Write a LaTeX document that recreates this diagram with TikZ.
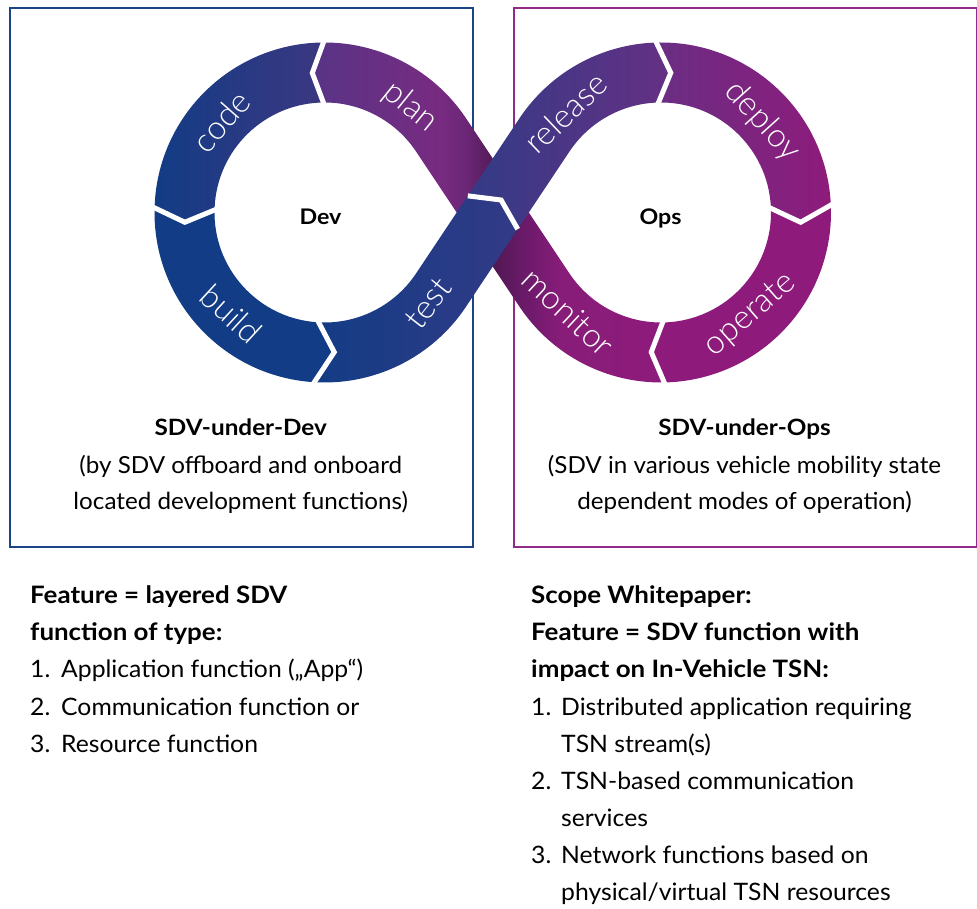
\documentclass[tikz,border=0pt]{standalone}
\usepackage{fontspec}
\setmainfont{Lato}[UprightFeatures={FakeStretch=1.03}, BoldFeatures={FakeStretch=1.08}]
\IfFontExistsTF{Lato Light}{\newfontfamily\ringfont{Lato Light}}{\newfontfamily\ringfont{Lato}}
\usetikzlibrary{calc}
\definecolor{boxblue}{HTML}{1B4489}
\definecolor{boxpurple}{HTML}{912A88}
\definecolor{dblue}{HTML}{123C85}
\definecolor{codemid}{HTML}{173C86}
\definecolor{coderight}{HTML}{3C3781}
\definecolor{testright}{HTML}{333A86}
\definecolor{relleft}{HTML}{333B86}
\definecolor{relright}{HTML}{653084}
\definecolor{depleft}{HTML}{6A2E84}
\definecolor{depmid}{HTML}{8A1F7C}
\definecolor{mag}{HTML}{8E1B7B}
\definecolor{pa}{HTML}{583486}
\definecolor{pb}{HTML}{772B81}
\definecolor{pc}{HTML}{6C2778}
\definecolor{pd}{HTML}{531A55}
\definecolor{ma}{HTML}{4E1851}
\definecolor{mb}{HTML}{6B1A6A}
\definecolor{mc}{HTML}{881C79}
\pgfdeclarehorizontalshading{planshade}{100bp}{color(0bp)=(pa); color(25bp)=(pa); color(56bp)=(pb); color(62bp)=(pc); color(69.4bp)=(pd); color(100bp)=(pd)}
\pgfdeclarehorizontalshading{monshade}{100bp}{color(0bp)=(ma); color(30.6bp)=(ma); color(39.5bp)=(mb); color(48.3bp)=(mc); color(75bp)=(mag); color(100bp)=(mag)}
\begin{document}
\begin{tikzpicture}[x=1pt,y=1pt,
  gap/.style={white, line width=5pt, line join=miter},
  lbl/.style={text=white, inner sep=0pt, font=\ringfont\fontsize{33}{33}\selectfont},
  body/.style={anchor=base west, inner sep=0pt, font=\fontsize{24}{28}\selectfont},
  bodyb/.style={anchor=base west, inner sep=0pt, font=\bfseries\fontsize{24}{28}\selectfont},
  cbody/.style={anchor=base, inner sep=0pt, font=\fontsize{23.5}{28}\selectfont},
  cbodyb/.style={anchor=base, inner sep=0pt, font=\bfseries\fontsize{22.5}{28}\selectfont},
  hub/.style={anchor=base, inner sep=0pt, font=\bfseries\fontsize{21.5}{21}\selectfont}]
\useasboundingbox (0,0) rectangle (977,908);
\fill[white] (0,0) rectangle (977,908);
% boxes
\node[draw=boxblue, line width=2pt, minimum width=463pt, minimum height=539pt, anchor=north west, inner sep=0pt] (devbox) at (9,901) {};
\node[draw=boxpurple, line width=2pt, minimum width=463pt, minimum height=539pt, anchor=north west, inner sep=0pt] (opsbox) at (513,901) {};
% centres
\coordinate (CL) at (324.5,695.5);
\coordinate (CR) at (661,695.5);
\coordinate (P) at (492.75,695.5);
% strand B (plan -> monitor), lower layer
\shade[shading=planshade] ($(P)+(33.7:30)$) -- ($(CL)+(33.7:170)$) arc[start angle=33.7, end angle=90, radius=170] -- ($(CL)+(95:140)$) -- ($(CL)+(90:110)$) arc[start angle=90, end angle=33.7, radius=110] -- ($(P)+(213.7:30)$) -- cycle;
\shade[shading=monshade] ($(CR)+(-88.5:170)$) arc[start angle=-88.5, end angle=-146.3, radius=170] -- ($(P)+(213.7:30)$) -- ($(P)+(33.7:30)$) -- ($(CR)+(-146.3:110)$) arc[start angle=-146.3, end angle=-88.5, radius=110] -- ($(CR)+(-94:140)$) -- cycle;
% code
\shade[left color=dblue, middle color=codemid, right color=coderight] ($(CL)+(90:170)$) arc[start angle=90, end angle=178, radius=170] -- ($(CL)+(184:140)$) -- ($(CL)+(178:110)$) arc[start angle=178, end angle=90, radius=110] -- ($(CL)+(95:140)$) -- cycle;
% build
\fill[dblue] ($(CL)+(178:170)$) arc[start angle=178, end angle=266, radius=170] -- ($(CL)+(274:140)$) -- ($(CL)+(266:110)$) arc[start angle=266, end angle=178, radius=110] -- ($(CL)+(184:140)$) -- cycle;
% deploy
\shade[left color=depleft, middle color=depmid, right color=mag] ($(CR)+(92:170)$) arc[start angle=92, end angle=3, radius=170] -- ($(CR)+(-4:140)$) -- ($(CR)+(3:110)$) arc[start angle=3, end angle=92, radius=110] -- ($(CR)+(86:140)$) -- cycle;
% operate
\fill[mag] ($(CR)+(3:170)$) arc[start angle=3, end angle=-88.5, radius=170] -- ($(CR)+(-94:140)$) -- ($(CR)+(-88.5:110)$) arc[start angle=-88.5, end angle=3, radius=110] -- ($(CR)+(-4:140)$) -- cycle;
% strand A (test -> release), upper layer
\shade[left color=dblue, right color=testright] ($(CL)+(266:170)$) arc[start angle=266, end angle=326.3, radius=170] -- ($(P)+(-33.7:30)$) -- ($(P)+(56.3:15)$) -- ($(P)+(146.3:30)$) -- ($(CL)+(326.3:110)$) arc[start angle=326.3, end angle=266, radius=110] -- ($(CL)+(274:140)$) -- cycle;
\shade[left color=relleft, right color=relright] ($(P)+(146.3:30)$) -- ($(CR)+(146.3:170)$) arc[start angle=146.3, end angle=92, radius=170] -- ($(CR)+(86:140)$) -- ($(CR)+(92:110)$) arc[start angle=92, end angle=146.3, radius=110] -- ($(P)+(-33.7:30)$) -- ($(P)+(56.3:15)$) -- cycle;
% white chevron gaps
\draw[gap] ($(CL)+(90:173)$) -- ($(CL)+(95:140)$) -- ($(CL)+(90:107)$);
\draw[gap] ($(CL)+(178:173)$) -- ($(CL)+(184:140)$) -- ($(CL)+(178:107)$);
\draw[gap] ($(CL)+(266:173)$) -- ($(CL)+(274:140)$) -- ($(CL)+(266:107)$);
\draw[gap] ($(P)+(146.3:30)$) -- ($(P)+(56.3:15)$) -- ($(P)+(-33.7:30)$);
\draw[gap] ($(CR)+(92:173)$) -- ($(CR)+(86:140)$) -- ($(CR)+(92:107)$);
\draw[gap] ($(CR)+(3:173)$) -- ($(CR)+(-4:140)$) -- ($(CR)+(3:107)$);
\draw[gap] ($(CR)+(-88.5:173)$) -- ($(CR)+(-94:140)$) -- ($(CR)+(-88.5:107)$);
% ring labels
\node[lbl, rotate=48.6] (lcode) at ($(CL)+(138.6:138)$) {code};
\node[lbl, rotate=-39] (lplan) at ($(CL)+(51:136)$) {plan};
\node[lbl, rotate=-42.6] (lbuild) at ($(CL)+(227.4:138)$) {build};
\node[lbl, rotate=52] (ltest) at ($(CL)+(-41.2:138)$) {test};
\node[lbl, rotate=43.6] (lrelease) at ($(CR)+(133.6:138)$) {release};
\node[lbl, rotate=-48] (ldeploy) at ($(CR)+(42:136)$) {deploy};
\node[lbl, rotate=41.2] (loperate) at ($(CR)+(-48.8:136)$) {operate};
\node[lbl, rotate=-43] (lmonitor) at ($(CR)+(227:136)$) {monitor};
% hubs
\node[hub] (dev) at (320.5,683) {Dev};
\node[hub] (ops) at (660.5,683) {Ops};
% box texts
\node[cbodyb] (sd1) at (240.75,472.5) {SDV-under-Dev};
\node[cbody] (sd2) at (240.75,434.5) {(by SDV offboard and onboard};
\node[cbody] (sd3) at (240.75,398) {located development functions)};
\node[cbodyb] (so1) at (744.5,472.5) {SDV-under-Ops};
\node[cbody] (so2) at (744.5,434.5) {(SDV in various vehicle mobility state};
\node[cbody] (so3) at (744.5,398) {dependent modes of operation)};
% left feature block
\node[bodyb] (f1) at (30,304) {Feature = layered SDV};
\node[bodyb] (f2) at (30,267) {function of type:};
\node[body] (l1n) at (30,230) {1.};
\node[body] (l1) at (61,230) {Application function („App“)};
\node[body] (l2n) at (30,193) {2.};
\node[body] (l2) at (61,193) {Communication function or};
\node[body] (l3n) at (30,156) {3.};
\node[body] (l3) at (61,156) {Resource function};
% right feature block
\node[bodyb] (r1) at (531,304) {Scope Whitepaper:};
\node[bodyb] (r2) at (531,267) {Feature = SDV function with};
\node[bodyb] (r3) at (531,230) {impact on In-Vehicle TSN:};
\node[body] (r4n) at (531,193) {1.};
\node[body] (r4) at (561,193) {Distributed application requiring};
\node[body] (r5) at (561,156) {TSN stream(s)};
\node[body] (r6n) at (531,119) {2.};
\node[body] (r6) at (561,119) {TSN-based communication};
\node[body] (r7) at (561,82) {services};
\node[body] (r8n) at (531,45) {3.};
\node[body] (r8) at (561,45) {Network functions based on};
\node[body] (r9) at (561,8) {physical/virtual TSN resources};
\end{tikzpicture}
\end{document}
